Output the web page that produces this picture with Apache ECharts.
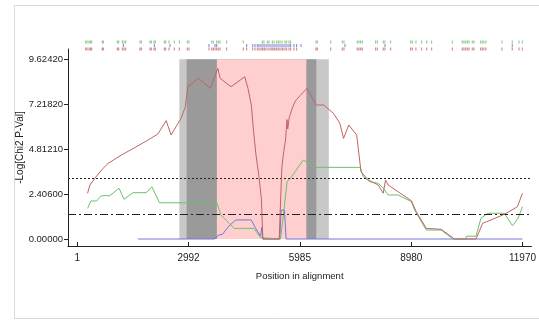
<!DOCTYPE html>
<html><head><meta charset="utf-8">
<script src="https://cdn.jsdelivr.net/npm/echarts@6/dist/echarts.min.js"></script>
<style>html,body{margin:0;padding:0;background:#fff}#c{width:539px;height:321px}</style>
</head><body><div id="c"></div><script>
const xTicks = [1, 2992, 5985, 8980, 11970];
const yTicks = [0, 2.406, 4.8121, 7.2182, 9.6242];

const redPos = [279,340,474,653,830,1188,1543,1899,2166,2391,2524,2658,2792,2907,2975,3258,3570,3780,3840,4135,4505,4591,4680,4740,4800,4880,4950,4990,5430,5500,5553,5600,5640,5660,5700,5780,5866,6000,6176,6420,6622,6890,7060,7160,7300,7513,7630,7826,8093,8227,8288,8360,8627,8983,9116,9384,9784,10142,10721,10899,11122,11480,11835,11969];
const redVal = [2.45,2.89,3.25,3.70,4.05,4.50,4.89,5.30,5.62,6.34,5.57,6.02,6.46,7.09,8.16,8.61,8.07,9.14,8.61,8.16,8.69,8.07,7.18,5.8,4.6,3.43,2.18,0,0,3.8,4.7,5.3,6.4,5.9,6.5,7.0,7.4,7.7,8.07,7.18,7.18,6.73,6.2,5.39,6.11,5.57,3.60,3.16,2.89,2.45,3.16,2.89,2.53,2.05,1.46,0.57,0.52,0,0,0.84,1.02,1.32,1.73,2.45];

const greenPos = [279,367,519,653,875,1124,1257,1498,1856,2006,2212,3754,3861,4217,4751,4930,4960,5465,5553,5642,5731,6075,6420,7604,7692,7870,8093,8227,8360,8627,8983,9072,9384,9784,10097,10453,10460,10721,10854,11033,11480,11702,11853,11969];
const greenVal = [1.64,2.04,2.04,2.32,2.32,2.72,2.13,2.48,2.48,2.80,1.94,1.94,1.29,0.57,0.57,0.07,0,0,1.46,3.07,3.25,4.23,3.84,3.84,3.34,3.07,2.98,2.72,2.36,2.36,2.00,1.55,0.48,0.48,0,0,0.15,0.15,1.11,1.38,1.38,0.71,1.11,1.73];

const bluePos = [1632,3700,3800,3904,4083,4262,4680,4797,4930,4960,4990,5446,5481,5571,5615,11969];
const blueVal = [0,0,0.21,0.25,0.70,1.02,1.02,0.57,0.15,0.62,0,0,1.55,1.55,0,0];

const thresholds = [3.25, 1.32];
const lightGrayBand = [2746, 6764];
const darkGrayBand = [2941, 6427];
const pinkBand = [3754, 6160];
const bandTop = 9.6242;

const siteRows = ['green', 'blue', 'red'];
const greenSites = [226,260,314,349,386,669,696,1070,1108,1204,1249,1295,1677,1712,1944,1979,2051,2086,2327,2364,2452,2594,2728,2941,2986,3594,3636,3727,3770,3815,3994,4438,4946,4991,5080,5125,5213,5259,5331,5374,5419,5473,5553,5598,5660,5705,6382,6416,6775,7085,7130,7485,7531,7576,7619,7977,8020,8181,8226,8378,8913,8956,9054,9207,9341,9474,10025,10292,10337,10383,10426,10470,10559,10604,10784,10827,10872,10925,11353,11628,11808,11896];
const blueSites = [1231,2059,2479,3521,3682,3727,4529,4690,4751,4813,4858,4911,4965,5018,5072,5125,5178,5232,5285,5339,5392,5446,5499,5553,5606,5660,5705,5793,5865,5980,7157,8226,11628];
const redSites = [226,260,314,349,386,669,696,1070,1108,1204,1249,1295,1677,1712,1944,1979,2051,2086,2327,2364,2452,2594,2728,2941,2986,3521,3594,3636,3682,3727,3770,3815,3994,4438,4529,4690,4751,4813,4858,4911,4946,4991,5018,5072,5125,5178,5213,5259,5285,5331,5374,5419,5473,5499,5553,5598,5660,5705,5793,5865,6382,6416,6775,7085,7130,7485,7531,7576,7619,7977,8020,8181,8226,8378,8913,8956,9054,9207,9341,9474,10025,10292,10337,10383,10426,10470,10559,10604,10784,10827,10872,10925,11353,11628,11808,11896];

const FONT = "'Liberation Sans', Arial, sans-serif";
const zip = (a, b) => a.map((v, i) => [v, b[i]]);

const chart = echarts.init(document.getElementById('c'), null, {renderer: 'canvas'});
chart.setOption({
  animation: false,
  backgroundColor: '#fff',
  graphic: [{
    type: 'rect', silent: true, z: -10,
    shape: {x: 14.5, y: 5.5, width: 600, height: 313},
    style: {fill: 'none', stroke: '#d9d9d9', lineWidth: 1}
  }],
  grid: [
    {left: 68, right: 5, top: 49, bottom: 75, containLabel: false},
    {left: 68, right: 5, top: 40.25, height: 10.5}
  ],
  xAxis: [{
    type: 'value', min: -248, max: 12210, gridIndex: 0,
    name: 'Position in alignment', nameLocation: 'middle', nameGap: 25, nameMoveOverlap: false,
    nameTextStyle: {fontFamily: FONT, fontSize: 9.5, color: '#222'},
    axisLine: {show: true, onZero: false, lineStyle: {color: '#222', width: 1}},
    axisTick: {show: true, inside: true, length: 4, customValues: xTicks, lineStyle: {color: '#222'}},
    axisLabel: {customValues: xTicks, formatter: v => String(v), fontFamily: FONT, fontSize: 10, color: '#222', margin: 7},
    splitLine: {show: false}
  }, {
    type: 'value', min: -248, max: 12210, gridIndex: 1, show: false
  }],
  yAxis: [{
    type: 'value', min: -0.375, max: 10.18, gridIndex: 0,
    name: '-Log[Chi2 P-Val]', nameLocation: 'middle', nameGap: 43, nameRotate: 90, nameMoveOverlap: false,
    nameTextStyle: {fontFamily: FONT, fontSize: 10, color: '#222'},
    axisLine: {show: true, onZero: false, lineStyle: {color: '#222', width: 1}},
    axisTick: {show: true, inside: false, length: 4, customValues: yTicks, lineStyle: {color: '#222'}},
    axisLabel: {customValues: yTicks, formatter: v => v.toFixed(5), fontFamily: FONT, fontSize: 9.5, color: '#222', margin: 5},
    splitLine: {show: false}
  }, {
    type: 'category', data: siteRows, inverse: true, gridIndex: 1, show: false
  }],
  series: [
    {
      type: 'line', xAxisIndex: 0, yAxisIndex: 0, data: [], z: 1, silent: true,
      markArea: {
        silent: true,
        data: [
          [{xAxis: lightGrayBand[0], yAxis: 0, itemStyle: {color: '#c8c8c8'}}, {xAxis: lightGrayBand[1], yAxis: bandTop}],
          [{xAxis: darkGrayBand[0], yAxis: 0, itemStyle: {color: '#9a9a9a'}}, {xAxis: darkGrayBand[1], yAxis: bandTop}],
          [{xAxis: pinkBand[0], yAxis: 0, itemStyle: {color: '#ffcfcf'}}, {xAxis: pinkBand[1], yAxis: bandTop}]
        ]
      }
    },
    {
      type: 'line', xAxisIndex: 0, yAxisIndex: 0, data: [], z: 2, silent: true,
      markLine: {
        silent: true, symbol: 'none', label: {show: false},
        data: [
          {yAxis: thresholds[0], lineStyle: {color: '#222', width: 1, type: [2, 2]}},
          {yAxis: thresholds[1], lineStyle: {color: '#222', width: 1, type: [8, 3, 2, 3]}}
        ]
      }
    },
    {type: 'line', xAxisIndex: 0, yAxisIndex: 0, data: zip(bluePos, blueVal), symbol: 'none', z: 3,
      lineStyle: {color: '#7474dc', width: 1}},
    {type: 'line', xAxisIndex: 0, yAxisIndex: 0, data: zip(greenPos, greenVal), symbol: 'none', z: 4,
      lineStyle: {color: '#6cc06c', width: 1}},
    {type: 'line', xAxisIndex: 0, yAxisIndex: 0, data: zip(redPos, redVal), symbol: 'none', z: 5,
      lineStyle: {color: '#c06464', width: 1}},
    {type: 'scatter', xAxisIndex: 1, yAxisIndex: 1, data: greenSites.map(p => [p, 'green']),
      symbol: 'rect', symbolSize: [1, 3], itemStyle: {color: '#5cb85c'}},
    {type: 'scatter', xAxisIndex: 1, yAxisIndex: 1, data: blueSites.map(p => [p, 'blue']),
      symbol: 'rect', symbolSize: [1, 3], itemStyle: {color: '#5b5bd0'}},
    {type: 'scatter', xAxisIndex: 1, yAxisIndex: 1, data: redSites.map(p => [p, 'red']),
      symbol: 'rect', symbolSize: [1, 3], itemStyle: {color: '#b85a5a'}}
  ]
});
</script></body></html>
